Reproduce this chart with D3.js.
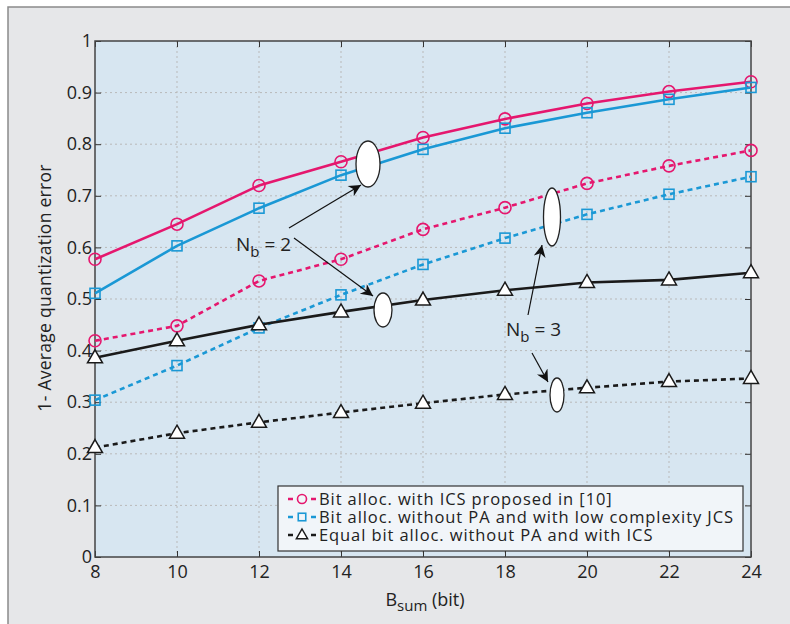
<!DOCTYPE html>
<html>
<head>
<meta charset="utf-8">
<script src="https://cdn.jsdelivr.net/npm/d3@7"></script>
<style>
  body { margin: 0; background: #fff; }
  svg { display: block; font-family: "Open Sans", "DejaVu Sans", sans-serif; }
</style>
</head>
<body>
<div id="chart"></div>
<script>
  // data
  var bsum = [8, 10, 12, 14, 16, 18, 20, 22, 24];
  var icsNb2 = [0.577, 0.645, 0.720, 0.766, 0.813, 0.849, 0.879, 0.902, 0.921];
  var jcsNb2 = [0.511, 0.603, 0.676, 0.740, 0.790, 0.831, 0.861, 0.887, 0.910];
  var icsNb3 = [0.419, 0.448, 0.535, 0.577, 0.635, 0.677, 0.724, 0.758, 0.788];
  var jcsNb3 = [0.304, 0.371, 0.444, 0.508, 0.567, 0.618, 0.664, 0.703, 0.737];
  var eqNb2 = [0.386, 0.419, 0.450, 0.475, 0.498, 0.517, 0.532, 0.537, 0.551];
  var eqNb3 = [0.212, 0.240, 0.261, 0.280, 0.298, 0.315, 0.328, 0.340, 0.346];
  var xTicks = [8, 10, 12, 14, 16, 18, 20, 22, 24];
  var yTicks = [0, 0.1, 0.2, 0.3, 0.4, 0.5, 0.6, 0.7, 0.8, 0.9, 1];
  var legendLabels = [
    "Bit alloc. with ICS proposed in [10]",
    "Bit alloc. without PA and with low complexity JCS",
    "Equal bit alloc. without PA and with ICS"
  ];

  var pink = "#e5176e", blue = "#1a98d5", black = "#1a1a1a";

  var series = [
    { values: icsNb2, color: pink, marker: "circle", dash: null },
    { values: jcsNb2, color: blue, marker: "square", dash: null },
    { values: icsNb3, color: pink, marker: "circle", dash: "5,4" },
    { values: jcsNb3, color: blue, marker: "square", dash: "5,4" },
    { values: eqNb2, color: black, marker: "triangle", dash: null },
    { values: eqNb3, color: black, marker: "triangle", dash: "5,4" }
  ];

  var width = 790, height = 624;
  var plotL = 95, plotR = 751, plotT = 41, plotB = 557;

  var svg = d3.select("#chart").append("svg")
    .attr("width", width)
    .attr("height", height);

  // outer gray frame
  svg.append("rect")
    .attr("x", 8).attr("y", 7)
    .attr("width", 800).attr("height", 700)
    .attr("fill", "#e6e7e9")
    .attr("stroke", "#8a8a8a")
    .attr("stroke-width", 1.5);

  var x = d3.scaleLinear().domain([8, 24]).range([plotL, plotR]);
  var y = d3.scaleLinear().domain([0, 1]).range([plotB, plotT]);

  svg.append("rect")
    .attr("x", plotL).attr("y", plotT)
    .attr("width", plotR - plotL).attr("height", plotB - plotT)
    .attr("fill", "#d7e6f1");

  // grid
  svg.append("g").selectAll("line")
    .data(xTicks.slice(1, -1))
    .enter().append("line")
    .attr("x1", function (d) { return x(d); })
    .attr("x2", function (d) { return x(d); })
    .attr("y1", plotT).attr("y2", plotB)
    .style("stroke", "#b9b9b9")
    .style("stroke-dasharray", "2,3");
  svg.append("g").selectAll("line")
    .data(yTicks.slice(1, -1))
    .enter().append("line")
    .attr("y1", function (d) { return y(d); })
    .attr("y2", function (d) { return y(d); })
    .attr("x1", plotL).attr("x2", plotR)
    .style("stroke", "#b9b9b9")
    .style("stroke-dasharray", "2,3");

  // axes (MATLAB box style, ticks inward)
  function styleAxis(g) {
    g.select(".domain").remove();
    g.selectAll(".tick line").attr("stroke", "#333").attr("stroke-width", 1);
    g.selectAll(".tick text").attr("fill", "#222").style("font-size", "18px")
      .style("font-family", "'Open Sans', 'DejaVu Sans', sans-serif");
  }
  var fmt = function (d) { return d === 0 || d === 1 ? String(d) : d3.format(".1f")(d); };

  svg.append("g").attr("transform", "translate(0," + plotB + ")")
    .call(d3.axisBottom(x).tickValues(xTicks).tickSizeInner(-6).tickSizeOuter(0).tickPadding(8))
    .call(styleAxis);
  svg.append("g").attr("transform", "translate(0," + plotT + ")")
    .call(d3.axisTop(x).tickValues(xTicks).tickSizeInner(-6).tickSizeOuter(0).tickFormat(""))
    .call(styleAxis);
  svg.append("g").attr("transform", "translate(" + plotL + ",0)")
    .call(d3.axisLeft(y).tickValues(yTicks).tickSizeInner(-6).tickSizeOuter(0).tickPadding(3).tickFormat(fmt))
    .call(styleAxis);
  svg.append("g").attr("transform", "translate(" + plotR + ",0)")
    .call(d3.axisRight(y).tickValues(yTicks).tickSizeInner(-6).tickSizeOuter(0).tickFormat(""))
    .call(styleAxis);

  svg.append("rect")
    .attr("x", plotL).attr("y", plotT)
    .attr("width", plotR - plotL).attr("height", plotB - plotT)
    .attr("fill", "none")
    .attr("stroke", "#444")
    .attr("stroke-width", 1.5);

  // markers
  function drawMarker(g, type, color, cx, cy, k) {
    k = k || 1;
    if (type === "circle") {
      g.append("circle").attr("cx", cx).attr("cy", cy).attr("r", 6 * k)
        .attr("fill", "none").attr("stroke", color).attr("stroke-width", 1.6);
    } else if (type === "square") {
      g.append("rect").attr("x", cx - 5 * k).attr("y", cy - 5 * k).attr("width", 10 * k).attr("height", 10 * k)
        .attr("fill", "none").attr("stroke", color).attr("stroke-width", 1.6);
    } else {
      g.append("path")
        .attr("d", "M" + cx + "," + (cy - 8 * k) + "L" + (cx + 7.5 * k) + "," + (cy + 5 * k) +
          "L" + (cx - 7.5 * k) + "," + (cy + 5 * k) + "Z")
        .attr("fill", "#fff").attr("stroke", color).attr("stroke-width", 1.5);
    }
  }

  var line = d3.line()
    .x(function (d) { return x(d.x); })
    .y(function (d) { return y(d.y); });

  series.forEach(function (s) {
    var pts = bsum.map(function (b, i) { return { x: b, y: s.values[i] }; });
    var g = svg.append("g");
    g.append("path")
      .datum(pts)
      .attr("d", line)
      .attr("fill", "none")
      .attr("stroke", s.color)
      .attr("stroke-width", 2.6)
      .attr("stroke-dasharray", s.dash);
    pts.forEach(function (p) { drawMarker(g, s.marker, s.color, x(p.x), y(p.y)); });
  });

  // annotations
  svg.append("defs").append("marker")
    .attr("id", "arrow")
    .attr("viewBox", "0 0 10 10")
    .attr("refX", 10).attr("refY", 5)
    .attr("markerWidth", 18).attr("markerHeight", 12)
    .attr("markerUnits", "userSpaceOnUse")
    .attr("orient", "auto")
    .append("path").attr("d", "M0,0L10,5L0,10L3,5Z").attr("fill", "#111");

  var ellipses = [[368, 164, 12, 23], [383, 310, 9, 17], [552, 217, 8.5, 29], [557, 395, 7, 17]];
  ellipses.forEach(function (e) {
    svg.append("ellipse").attr("cx", e[0]).attr("cy", e[1]).attr("rx", e[2]).attr("ry", e[3])
      .attr("fill", "#fff").attr("stroke", "#222").attr("stroke-width", 1.3);
  });
  var arrows = [[289, 228, 361, 185], [294, 238, 373, 296], [528, 315, 542, 245], [532, 353, 548, 382]];
  arrows.forEach(function (a) {
    svg.append("line").attr("x1", a[0]).attr("y1", a[1]).attr("x2", a[2]).attr("y2", a[3])
      .attr("stroke", "#111").attr("stroke-width", 1.2).attr("marker-end", "url(#arrow)");
  });

  function nbLabel(tx, ty, n) {
    var t = svg.append("text").attr("x", tx).attr("y", ty)
      .attr("fill", "#222").style("font-size", "19px");
    t.append("tspan").text("N");
    t.append("tspan").attr("dy", 6).style("font-size", "15px").text("b");
    t.append("tspan").attr("dy", -6).text(" = " + n);
  }
  nbLabel(236, 251, 2);
  nbLabel(506, 336, 3);

  // stretch a text to a measured width with letter spacing
  function fitWidth(sel, target) {
    var n = sel.text().length;
    var w = sel.node().getComputedTextLength();
    sel.style("letter-spacing", ((target - w) / (n - 1)) + "px");
  }

  // legend
  var lg = svg.append("g");
  lg.append("rect").attr("x", 278).attr("y", 486).attr("width", 465).attr("height", 65)
    .attr("fill", "#f1f5f9").attr("stroke", "#333").attr("stroke-width", 1.2);
  var legendSeries = [series[2], series[3], series[5]];
  var spacing = 0;
  legendSeries.forEach(function (s, i) {
    var ly = 499 + i * 18;
    lg.append("line").attr("x1", 288).attr("x2", 316).attr("y1", ly).attr("y2", ly)
      .attr("stroke", s.color).attr("stroke-width", 2.4).attr("stroke-dasharray", "5,18");
    drawMarker(lg, s.marker, s.color, 302, ly, 0.75);
    var t = lg.append("text").attr("x", 319).attr("y", ly + 5.5)
      .attr("fill", "#222").style("font-size", "16.5px").text(legendLabels[i]);
    if (i === 1) {
      fitWidth(t, 414);
      spacing = t.style("letter-spacing");
    }
  });
  lg.selectAll("text").style("letter-spacing", spacing);

  // axis titles
  var xt = svg.append("text").attr("x", 425).attr("y", 606).attr("text-anchor", "middle")
    .attr("fill", "#222").style("font-size", "18px");
  xt.append("tspan").text("B");
  xt.append("tspan").attr("dy", 5).style("font-size", "15px").text("sum");
  xt.append("tspan").attr("dy", -5).text(" (bit)");

  var yt = svg.append("text")
    .attr("transform", "translate(51,288) rotate(-90)")
    .attr("text-anchor", "middle")
    .attr("fill", "#222").style("font-size", "17.5px")
    .text("1- Average quantization error");
  fitWidth(yt, 247);
</script>
</body>
</html>
